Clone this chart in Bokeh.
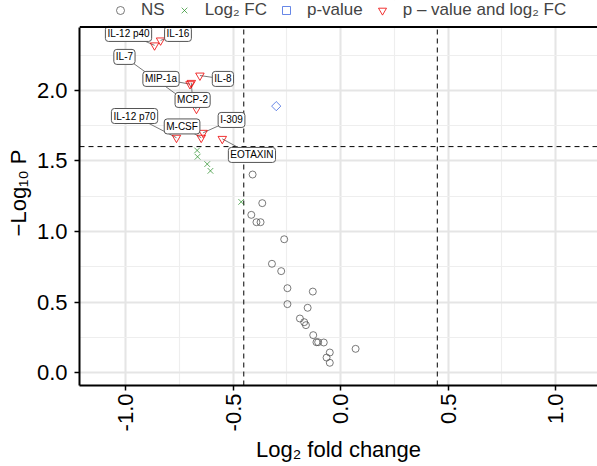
import math
from bokeh.plotting import figure
from bokeh.models import (Range1d, SingleIntervalTicker, NumeralTickFormatter, Span,
                          Legend, LegendItem, ColumnDataSource, BoxAnnotation)
from bokeh.core.properties import value
from bokeh.embed import file_html
from bokeh.resources import INLINE

# ---- data ----
ns_x = [-0.409, -0.364, -0.415, -0.391, -0.372, -0.262, -0.319, -0.276, -0.247, -0.129,
        -0.247, -0.153, -0.189, -0.169, -0.161, -0.127, -0.112, -0.104, -0.078, -0.050,
        -0.065, -0.050, 0.070]
ns_y = [1.404, 1.201, 1.118, 1.066, 1.066, 0.945, 0.771, 0.719, 0.598, 0.574,
        0.485, 0.459, 0.383, 0.357, 0.336, 0.265, 0.215, 0.215, 0.213, 0.142,
        0.106, 0.069, 0.168]

fc_x = [-0.667, -0.665, -0.620, -0.605, -0.462]
fc_y = [1.575, 1.530, 1.478, 1.430, 1.210]

pv_x = [-0.299]
pv_y = [1.889]

both_names = ["IL-12 p40", "IL-16", "IL-8", "MCP-2", "MIP-1a", "IL-7",
              "IL-12 p70", "M-CSF", "I-309", "EOTAXIN"]
both_x = [-0.865, -0.837, -0.654, -0.694, -0.700, -0.670, -0.763, -0.648, -0.639, -0.550]
both_y = [2.320, 2.355, 2.106, 2.054, 2.045, 1.870, 1.665, 1.665, 1.700, 1.657]

# label box positions (repelled text locations, data units)
lab_x = [-0.986, -0.756, -0.547, -0.688, -0.835, -1.005, -0.958, -0.737, -0.507, -0.412]
lab_y = [2.401, 2.401, 2.082, 1.933, 2.082, 2.238, 1.819, 1.745, 1.791, 1.543]

fc_cut = 0.45
p_cut = 1.602
x_ticks_interval = 0.5

X_MIN, X_MAX = -1.214, 1.195
Y_MIN, Y_PANEL_TOP, Y_MAX = -0.092, 2.45, 2.638   # area above panel top holds the legend

FONT = "Liberation Sans"

p = figure(width=597, height=466, x_range=Range1d(X_MIN, X_MAX), y_range=Range1d(Y_MIN, Y_MAX),
           output_backend="svg", toolbar_location=None, title=None,
           min_border_left=79, min_border_right=0, min_border_top=0, min_border_bottom=81)
p.outline_line_color = None
p.background_fill_color = "white"

# axes
for ax in (p.xaxis[0], p.yaxis[0]):
    ax.ticker = SingleIntervalTicker(interval=x_ticks_interval, num_minor_ticks=2)
    ax.formatter = NumeralTickFormatter(format="0.0")
    ax.axis_line_color = "black"
    ax.axis_line_width = 2
    ax.major_tick_line_color = "black"
    ax.major_tick_line_width = 1.5
    ax.major_tick_out = 5
    ax.major_tick_in = 0
    ax.minor_tick_line_color = None
    ax.major_label_text_font = FONT
    ax.major_label_text_font_size = "22px"
    ax.major_label_text_color = "black"
    ax.axis_label_text_font = FONT
    ax.axis_label_text_font_size = "22px"
    ax.axis_label_text_font_style = "normal"
    ax.axis_label_text_color = "black"
    ax.major_label_standoff = 3
    ax.axis_label_standoff = 3

p.yaxis.major_label_standoff = 7
p.yaxis.bounds = (Y_MIN, Y_PANEL_TOP)
p.xaxis.major_label_orientation = math.pi / 2
p.xaxis.axis_label = "Log₂ fold change"
p.yaxis.axis_label = "−Log₁₀ P"

for g in (p.xgrid[0], p.ygrid[0]):
    g.grid_line_color = "#E5E5E5"
    g.grid_line_width = 2
    g.minor_grid_line_color = "#EEEEEE"
    g.minor_grid_line_width = 1.2

# white strip above the panel (legend area)
p.add_layout(BoxAnnotation(bottom=Y_PANEL_TOP, fill_color="white", fill_alpha=1,
                           line_color=None, level="underlay"))

# top border line
p.add_layout(Span(location=Y_PANEL_TOP, dimension="width", line_color="black", line_width=2))

# threshold lines
p.segment(x0=[-fc_cut, fc_cut], y0=[Y_MIN, Y_MIN], x1=[-fc_cut, fc_cut],
          y1=[Y_PANEL_TOP, Y_PANEL_TOP], line_color="black", line_width=1, line_dash="5 4")
p.segment(x0=[X_MIN], y0=[p_cut], x1=[X_MAX], y1=[p_cut],
          line_color="black", line_width=1, line_dash="5 4")

# connectors
seg_src = ColumnDataSource(dict(x0=both_x, y0=both_y, x1=lab_x, y1=lab_y))
p.segment(x0="x0", y0="y0", x1="x1", y1="y1", source=seg_src, line_color="#555555", line_width=0.8)

r_ns = p.scatter(ns_x, ns_y, marker="circle", size=7, fill_color=None,
                 line_color="#4D4D4D", line_alpha=0.75, line_width=1)
r_fc = p.scatter(fc_x, fc_y, marker="x", size=8, line_color="#228B22", line_alpha=0.7, line_width=1)
r_pv = p.scatter(pv_x, pv_y, marker="square", angle=math.pi / 4, size=6.5, fill_color=None,
                 line_color="#4169E1", line_alpha=0.8, line_width=1)
r_both = p.scatter(both_x, both_y, marker="inverted_triangle", size=8.5, fill_color=None,
                   line_color="#EE0000", line_alpha=0.8, line_width=1)

lab_src = ColumnDataSource(dict(x=lab_x, y=lab_y, t=both_names))
p.text(x="x", y="y", text="t", source=lab_src, text_align="center",
       text_baseline="middle", text_font=value(FONT), text_font_size="10px",
       text_color="black", background_fill_color="white",
       border_line_color="#555555", border_line_width=1,
       padding=2, border_radius=3)

legend = Legend(items=[LegendItem(label="NS", renderers=[r_ns]),
                       LegendItem(label="Log₂ FC", renderers=[r_fc]),
                       LegendItem(label="p-value", renderers=[r_pv]),
                       LegendItem(label="p – value and log₂ FC", renderers=[r_both])],
                orientation="horizontal", location=(29, 365),
                label_text_font=FONT, label_text_font_size="17px",
                glyph_width=24, glyph_height=20, label_height=20,
                label_standoff=9, spacing=7, padding=0, margin=0,
                border_line_color=None, background_fill_alpha=0)
p.add_layout(legend)

open("out.html", "w").write(file_html(p, INLINE))
